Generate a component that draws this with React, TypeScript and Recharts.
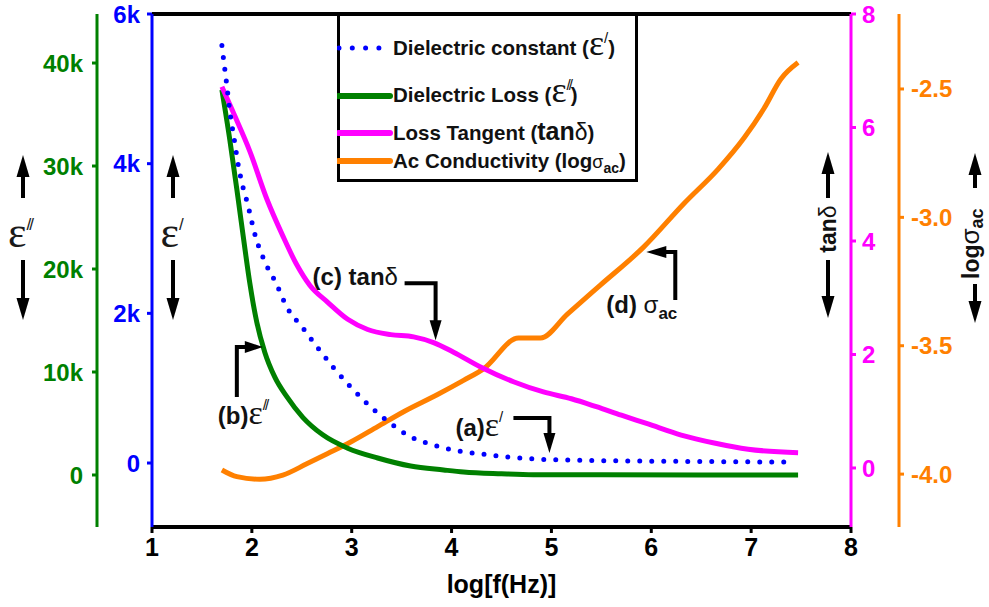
import React from 'react';
import { LineChart, Line, XAxis, YAxis, ReferenceLine, ReferenceDot, Legend } from 'recharts';

const BLUE = '#0000ff';
const GREEN = '#008000';
const MAGENTA = '#ff00ff';
const ORANGE = '#ff8000';
const SANS = 'Arial, "Liberation Sans", sans-serif';
const SERIF = '"Times New Roman", "Liberation Serif", serif';

// axis ticks
const xTicks = [1, 2, 3, 4, 5, 6, 7, 8];
const epTicks = [0, 2000, 4000, 6000];
const eppTicks = [0, 10000, 20000, 30000, 40000];
const tanTicks = [0, 2, 4, 6, 8];
const sigTicks = [-4.0, -3.5, -3.0, -2.5];

// (a) dielectric constant ε'
const epsPrimeX = [1.7, 1.72, 1.75, 1.78, 1.82, 1.86, 1.91, 1.95, 2.04, 2.13, 2.24, 2.35, 2.51, 2.66, 2.82, 2.99, 3.17, 3.37, 3.59, 3.82, 4.07, 4.31, 4.56, 4.81, 5.2, 5.6, 6.0, 6.5, 7.0, 7.37];
const epsPrimeY = [5580, 5360, 5040, 4690, 4355, 4010, 3690, 3500, 3010, 2690, 2410, 2085, 1805, 1540, 1270, 1015, 775, 550, 350, 240, 160, 120, 80, 55, 40, 30, 25, 20, 15, 12];

// (b) dielectric loss ε''
const epsLossX = [1.7, 1.78, 1.86, 1.93, 1.98, 2.05, 2.13, 2.23, 2.35, 2.51, 2.71, 2.96, 3.26, 3.59, 3.92, 4.12, 4.5, 4.82, 5.5, 6.5, 7.47];
const epsLossY = [37400, 32500, 27000, 22000, 18600, 14800, 11900, 9500, 7600, 5600, 3900, 2600, 1650, 870, 490, 290, 120, 30, 15, 10, 5];

// (c) loss tangent tanδ
const tanX = [1.7, 1.81, 1.98, 2.15, 2.31, 2.45, 2.58, 2.76, 2.96, 3.16, 3.39, 3.62, 3.82, 4.02, 4.29, 4.62, 4.92, 5.2, 5.45, 5.7, 5.96, 6.3, 6.63, 6.97, 7.47];
const tanY = [6.72, 6.28, 5.58, 4.74, 4.09, 3.58, 3.22, 2.92, 2.62, 2.44, 2.35, 2.31, 2.21, 2.04, 1.78, 1.52, 1.34, 1.22, 1.08, 0.93, 0.78, 0.58, 0.44, 0.33, 0.27];

// (d) ac conductivity log σac
const sigX = [1.7, 1.85, 2.08, 2.31, 2.55, 2.76, 2.99, 3.26, 3.52, 3.86, 4.12, 4.32, 4.67, 4.89, 5.16, 5.49, 5.92, 6.33, 6.67, 6.93, 7.13, 7.3, 7.47];
const sigY = [-3.984, -4.01, -4.02, -4.004, -3.96, -3.92, -3.875, -3.815, -3.757, -3.69, -3.635, -3.59, -3.47, -3.47, -3.377, -3.264, -3.117, -2.945, -2.812, -2.69, -2.575, -2.46, -2.397];

const toPoints = (xs: number[], ys: number[]) => xs.map((x, i) => ({ x, y: ys[i] }));

const kFmt = (v: number) => (v === 0 ? '0' : `${v / 1000}k`);
const tickFont = { fontSize: 24, fontWeight: 700, fontFamily: SANS };

function axisStyle(color: string) {
  return {
    axisLine: { stroke: color, strokeWidth: 3 },
    tickLine: { stroke: color, strokeWidth: 3 },
    tick: { ...tickFont, fill: color },
    tickSize: 5,
  };
}

function VArrow({ x, from, to }: { x: number; from: number; to: number }) {
  const dir = to > from ? 1 : -1;
  const base = to - dir * 22;
  return (
    <g>
      <line x1={x} y1={from} x2={x} y2={base} stroke="#000" strokeWidth={4} />
      <polygon points={`${x},${to} ${x - 6.5},${base} ${x + 6.5},${base}`} fill="#000" />
    </g>
  );
}

// prime marks drawn as slanted strokes, like the original
const PRIME = { fontFamily: SANS, fontWeight: 400 };

function LegendBox() {
  const t = { fontSize: 20.5, fontWeight: 700, fontFamily: SANS, fill: '#111' };
  return (
    <svg width={301} height={169} style={{ display: 'block' }}>
      <rect x={1.5} y={1.5} width={298} height={166} fill="#fff" stroke="#000" strokeWidth={3} />
      <line x1={2} y1={35} x2={42} y2={35} stroke={BLUE} strokeWidth={5} strokeDasharray="0 13.3" strokeLinecap="round" />
      <line x1={1.5} y1={83} x2={53} y2={83} stroke={GREEN} strokeWidth={6} strokeLinecap="round" />
      <line x1={1.5} y1={120} x2={53} y2={120} stroke={MAGENTA} strokeWidth={6} strokeLinecap="round" />
      <line x1={1.5} y1={148} x2={53} y2={148} stroke={ORANGE} strokeWidth={6} strokeLinecap="round" />
      <text x={56} y={42} {...t}>
        Dielectric constant (
        <tspan fontFamily={SERIF} fontWeight={400} fontSize={36}>ε</tspan>
        <tspan {...PRIME} fontSize={15} dy={-12}>/</tspan>
        <tspan dy={12}>)</tspan>
      </text>
      <text x={56} y={89} {...t}>
        Dielectric Loss (
        <tspan fontFamily={SERIF} fontWeight={400} fontSize={36}>ε</tspan>
        <tspan {...PRIME} fontSize={15} dy={-12} letterSpacing={-2}>//</tspan>
        <tspan dy={12}>)</tspan>
      </text>
      <text x={56} y={127} {...t}>
        Loss Tangent (
        <tspan fontSize={25}>tan</tspan>
        <tspan fontSize={23} fontWeight={400}>δ</tspan>)
      </text>
      <text x={56} y={155} {...t}>
        Ac Conductivity (log
        <tspan fontSize={18} fontWeight={400}>σ</tspan>
        <tspan fontSize={14} dy={5}>ac</tspan>
        <tspan dy={-5}>)</tspan>
      </text>
    </svg>
  );
}

const annoText = { fontSize: 24, fontWeight: 700, fontFamily: SANS, fill: '#111' };

// annotation callouts, anchored on the curves through the chart scales
const tanCallout = ({ cx, cy }: any) => (
  <g>
    <text x={cx - 123} y={cy - 55} {...annoText}>(c) tan<tspan fontWeight={400}>δ</tspan></text>
    <polyline points={`${cx - 31},${cy - 57} ${cx},${cy - 57} ${cx},${cy - 18}`} stroke="#000" strokeWidth={4} fill="none" />
    <polygon points={`${cx},${cy} ${cx - 6},${cy - 20} ${cx + 6},${cy - 20}`} fill="#000" />
  </g>
);
const sigCallout = ({ cx, cy }: any) => (
  <g>
    <text x={cx - 40} y={cy + 61} {...annoText}>(d) <tspan fontWeight={400}>σ</tspan><tspan fontSize={17} dy={6}>ac</tspan></text>
    <polyline points={`${cx + 29},${cy + 48} ${cx + 29},${cy} ${cx + 18},${cy}`} stroke="#000" strokeWidth={4} fill="none" />
    <polygon points={`${cx},${cy} ${cx + 20},${cy - 6} ${cx + 20},${cy + 6}`} fill="#000" />
  </g>
);
const lossCallout = ({ cx, cy }: any) => (
  <g>
    <text x={cx - 45} y={cy + 77} {...annoText}>(b)<tspan fontWeight={400} fontFamily={SERIF} fontSize={34}>ε</tspan><tspan {...PRIME} fontSize={15} dy={-14} letterSpacing={-2}>//</tspan></text>
    <polyline points={`${cx - 26},${cy + 50} ${cx - 26},${cy} ${cx - 16},${cy}`} stroke="#000" strokeWidth={4} fill="none" />
    <polygon points={`${cx},${cy} ${cx - 18},${cy - 6} ${cx - 18},${cy + 6}`} fill="#000" />
  </g>
);
const constCallout = ({ cx, cy }: any) => (
  <g>
    <text x={cx - 94} y={cy - 17} {...annoText}>(a)<tspan fontWeight={400} fontFamily={SERIF} fontSize={34}>ε</tspan><tspan {...PRIME} fontSize={15} dy={-14}>/</tspan></text>
    <polyline points={`${cx - 36},${cy - 35} ${cx},${cy - 35} ${cx},${cy - 18}`} stroke="#000" strokeWidth={4} fill="none" />
    <polygon points={`${cx},${cy} ${cx - 6},${cy - 20} ${cx + 6},${cy - 20}`} fill="#000" />
  </g>
);

export default function App() {
  return (
    <div style={{ position: 'absolute', left: 0, top: 0, width: 989, height: 607, background: '#fff', overflow: 'hidden' }}>
      <LineChart width={989} height={607} margin={{ top: 14, right: 0, bottom: 0, left: 0 }}>
        <XAxis
          type="number" dataKey="x" domain={[1, 8]} ticks={xTicks} interval={0} height={80} allowDataOverflow
          axisLine={{ stroke: '#000', strokeWidth: 4 }} tickLine={{ stroke: '#000', strokeWidth: 3 }}
          tickSize={6} tickMargin={5} tick={{ ...tickFont, fontSize: 25, fill: '#000' }}
          label={{ value: 'log[f(Hz)]', position: 'insideBottom', offset: 14, fill: '#000', fontSize: 25, fontWeight: 700, fontFamily: SANS }}
        />
        {/* axis ids are numbered from the plot outwards */}
        <YAxis yAxisId="y1ep" orientation="left" width={55} type="number" domain={[-855, 6000]} ticks={epTicks} interval={0}
          allowDataOverflow tickFormatter={kFmt} tickMargin={7} {...axisStyle(BLUE)} />
        <YAxis yAxisId="y2epp" orientation="left" width={97} type="number" domain={[-5050, 44760]} ticks={eppTicks} interval={0}
          allowDataOverflow tickFormatter={kFmt} tickMargin={9} {...axisStyle(GREEN)} />
        <YAxis yAxisId="y3tan" orientation="right" width={48} type="number" domain={[-1.04, 8]} ticks={tanTicks} interval={0}
          allowDataOverflow tickMargin={6} {...axisStyle(MAGENTA)} />
        <YAxis yAxisId="y4sig" orientation="right" width={90} type="number" domain={[-4.206, -2.208]} ticks={sigTicks} interval={0}
          allowDataOverflow tickFormatter={(v: number) => v.toFixed(1)} tickMargin={7} {...axisStyle(ORANGE)} />

        <ReferenceLine yAxisId="y1ep" y={6000} stroke="#000" strokeWidth={4} />

        <Line yAxisId="y4sig" data={toPoints(sigX, sigY)} dataKey="y" type="monotone" stroke={ORANGE} strokeWidth={5} dot={false} isAnimationActive={false} />
        <Line yAxisId="y2epp" data={toPoints(epsLossX, epsLossY)} dataKey="y" type="monotone" stroke={GREEN} strokeWidth={5} dot={false} isAnimationActive={false} />
        <Line yAxisId="y3tan" data={toPoints(tanX, tanY)} dataKey="y" type="monotone" stroke={MAGENTA} strokeWidth={5} dot={false} isAnimationActive={false} />
        <Line yAxisId="y1ep" data={toPoints(epsPrimeX, epsPrimeY)} dataKey="y" type="monotone" stroke={BLUE} strokeWidth={5}
          strokeDasharray="0 12" strokeLinecap="round" dot={false} isAnimationActive={false} />

        <ReferenceDot yAxisId="y3tan" x={3.84} y={2.25} shape={tanCallout} />
        <ReferenceDot yAxisId="y4sig" x={5.95} y={-3.135} shape={sigCallout} />
        <ReferenceDot yAxisId="y2epp" x={2.11} y={12430} shape={lossCallout} />
        <ReferenceDot yAxisId="y1ep" x={4.98} y={134} shape={constCallout} />

        <Legend layout="vertical" align="center" verticalAlign="middle" content={() => <LegendBox />}
          wrapperStyle={{ left: 337, top: 13, width: 301, height: 169 }} />
      </LineChart>

      {/* axis titles with arrows */}
      <svg width={989} height={607} style={{ position: 'absolute', left: 0, top: 0, pointerEvents: 'none' }}>
        <VArrow x={23} from={198} to={155} />
        <text x={20} y={247} textAnchor="middle" fontFamily={SERIF} fontSize={44} fill="#1a1a1a">ε<tspan {...PRIME} fontSize={17} dy={-17} letterSpacing={-2}>//</tspan></text>
        <VArrow x={23} from={260} to={320} />

        <VArrow x={173} from={198} to={155} />
        <text x={172} y={247} textAnchor="middle" fontFamily={SERIF} fontSize={44} fill="#1a1a1a">ε<tspan {...PRIME} fontSize={17} dy={-17}>/</tspan></text>
        <VArrow x={173} from={260} to={320} />

        <VArrow x={828} from={198} to={152} />
        <text x={836} y={229} textAnchor="middle" transform="rotate(-90 836 229)" fontFamily={SANS} fontSize={23} fontWeight={700} fill="#111">
          tan<tspan fontWeight={400}>δ</tspan>
        </text>
        <VArrow x={828} from={260} to={318} />

        <VArrow x={975} from={188} to={153} />
        <text x={979} y={279} textAnchor="start" transform="rotate(-90 979 279)" fontFamily={SANS} fontSize={23} fontWeight={700} fill="#111">
          log<tspan fontSize={26} fontWeight={400}>σ</tspan><tspan fontSize={18} dy={4}>ac</tspan>
        </text>
        <VArrow x={975} from={284} to={323} />
      </svg>
    </div>
  );
}
